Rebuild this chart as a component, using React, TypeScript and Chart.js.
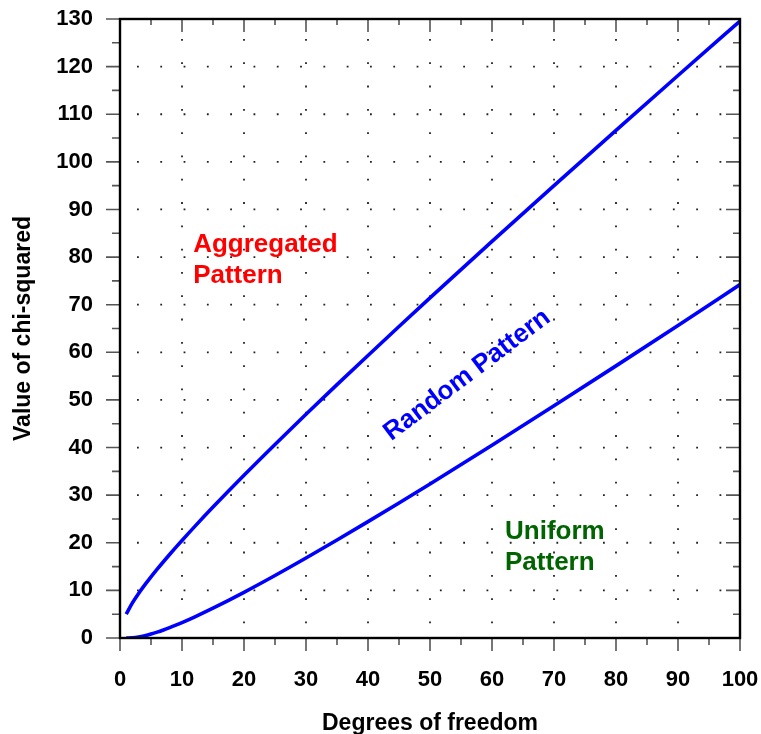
import { useEffect, useRef } from 'react';
import { Chart, registerables } from 'chart.js';

Chart.register(...registerables);

// Degrees of freedom (x) and chi-squared critical values (y)
const degreesOfFreedom = [1, 2, 3, 4, 5, 6, 7, 8, 9, 10, 12, 15, 20, 25, 30, 35, 40, 45, 50, 60, 70, 80, 90, 100];
const upperChiSquared = [5.024, 7.378, 9.348, 11.143, 12.833, 14.449, 16.013, 17.535, 19.023, 20.483, 23.337, 27.488, 34.17, 40.646, 46.979, 53.203, 59.342, 65.41, 71.42, 83.298, 95.023, 106.629, 118.136, 129.561];
const lowerChiSquared = [0.001, 0.051, 0.216, 0.484, 0.831, 1.237, 1.69, 2.18, 2.7, 3.247, 4.404, 6.262, 9.591, 13.12, 16.791, 20.569, 24.433, 28.366, 32.357, 40.482, 48.758, 57.153, 65.647, 74.222];

const xAxisRange = [0, 100];
const yAxisRange = [0, 130];
const tickStep = 5;
const labelStep = 10;

const regionLabels = [
  { text: 'Aggregated', x: 11.8, y: 81.1, color: '#ff0000', rotation: 0 },
  { text: 'Pattern', x: 11.8, y: 74.6, color: '#ff0000', rotation: 0 },
  { text: 'Random Pattern', x: 56, y: 55.2, color: '#0000ff', rotation: -37 },
  { text: 'Uniform', x: 62.1, y: 20.8, color: '#006400', rotation: 0 },
  { text: 'Pattern', x: 62.1, y: 14.3, color: '#006400', rotation: 0 },
];

const FONT = "'Liberation Sans', Arial, Helvetica, sans-serif";

const framePlugin = {
  id: 'frame',
  beforeDatasetsDraw(chart: any) {
    const { ctx, chartArea: a, scales } = chart;
    const xs = scales.x;
    const ys = scales.y;
    ctx.save();
    ctx.strokeStyle = '#222';
    ctx.lineWidth = 1.8;
    ctx.setLineDash([1.8, 21.5]);
    for (const t of xs.ticks) {
      if (t.value % labelStep !== 0 || t.value <= xAxisRange[0] || t.value >= xAxisRange[1]) continue;
      const px = xs.getPixelForValue(t.value);
      ctx.lineDashOffset = -20;
      ctx.beginPath();
      ctx.moveTo(px, a.top);
      ctx.lineTo(px, a.bottom);
      ctx.stroke();
    }
    for (const t of ys.ticks) {
      if (t.value % labelStep !== 0 || t.value <= yAxisRange[0] || t.value >= yAxisRange[1]) continue;
      const py = ys.getPixelForValue(t.value);
      ctx.lineDashOffset = -17;
      ctx.beginPath();
      ctx.moveTo(a.left, py);
      ctx.lineTo(a.right, py);
      ctx.stroke();
    }
    ctx.restore();
  },
  afterDatasetsDraw(chart: any) {
    const { ctx, chartArea: a, scales } = chart;
    const xs = scales.x;
    const ys = scales.y;
    ctx.save();
    // tick marks
    ctx.strokeStyle = '#555';
    ctx.lineWidth = 1.6;
    for (const t of xs.ticks) {
      const major = t.value % labelStep === 0;
      const px = xs.getPixelForValue(t.value);
      ctx.beginPath();
      ctx.moveTo(px, a.bottom);
      ctx.lineTo(px, a.bottom + (major ? 13 : 7));
      ctx.moveTo(px, a.top);
      ctx.lineTo(px, a.top + (major ? 13 : 6));
      ctx.stroke();
    }
    for (const t of ys.ticks) {
      const major = t.value % labelStep === 0;
      const py = ys.getPixelForValue(t.value);
      ctx.beginPath();
      ctx.moveTo(a.left, py);
      ctx.lineTo(a.left - (major ? 14 : 8), py);
      ctx.moveTo(a.right, py);
      ctx.lineTo(a.right - (major ? 14 : 7), py);
      ctx.stroke();
    }
    // frame
    ctx.strokeStyle = '#000';
    ctx.lineWidth = 2.4;
    ctx.strokeRect(a.left, a.top, a.right - a.left, a.bottom - a.top);
    // region labels
    ctx.font = `bold 26px ${FONT}`;
    for (const l of regionLabels) {
      const px = xs.getPixelForValue(l.x);
      const py = ys.getPixelForValue(l.y);
      ctx.save();
      ctx.fillStyle = l.color;
      ctx.translate(px, py);
      if (l.rotation) {
        ctx.rotate((l.rotation * Math.PI) / 180);
        ctx.textAlign = 'center';
        ctx.textBaseline = 'middle';
      } else {
        ctx.textAlign = 'left';
        ctx.textBaseline = 'alphabetic';
      }
      ctx.fillText(l.text, 0, 0);
      ctx.restore();
    }
    ctx.restore();
  },
};

const clearPadding = (s: any) => {
  s.paddingTop = 0;
  s.paddingBottom = 0;
  s.paddingLeft = 0;
  s.paddingRight = 0;
};

export default function App() {
  const ref = useRef<HTMLCanvasElement>(null);
  useEffect(() => {
    if (!ref.current) return;
    const tickFont = { family: FONT, size: 22, weight: 'bold' as const };
    const titleFont = { family: FONT, size: 23, weight: 'bold' as const };
    const lineStyle = {
      borderColor: '#0000ff',
      borderWidth: 3.6,
      pointRadius: 0,
      fill: false,
      cubicInterpolationMode: 'monotone' as const,
    };
    const chart = new Chart(ref.current, {
      type: 'line',
      data: {
        datasets: [
          { label: 'Upper', data: degreesOfFreedom.map((d, i) => ({ x: d, y: upperChiSquared[i] })), ...lineStyle },
          { label: 'Lower', data: degreesOfFreedom.map((d, i) => ({ x: d, y: lowerChiSquared[i] })), ...lineStyle },
        ],
      },
      options: {
        responsive: false,
        animation: false,
        devicePixelRatio: 1,
        layout: { padding: { top: 19, right: 21, left: 0, bottom: 0 } },
        plugins: { legend: { display: false }, tooltip: { enabled: false } },
        scales: {
          x: {
            type: 'linear',
            position: 'bottom',
            min: xAxisRange[0],
            max: xAxisRange[1],
            ticks: {
              stepSize: tickStep,
              autoSkip: false,
              maxRotation: 0,
              font: tickFont,
              color: '#000',
              padding: 29,
              callback: (v: any) => (Number(v) % labelStep === 0 ? String(v) : ''),
            },
            grid: { display: false, drawTicks: false },
            border: { display: false },
            title: { display: true, text: 'Degrees of freedom', font: titleFont, color: '#000', padding: { top: 0, bottom: -3 } },
            afterFit: (s: any) => {
              s.height = 96;
              clearPadding(s);
            },
          },
          y: {
            type: 'linear',
            min: yAxisRange[0],
            max: yAxisRange[1],
            ticks: {
              stepSize: tickStep,
              autoSkip: false,
              font: tickFont,
              color: '#000',
              padding: 27,
              callback: (v: any) => (Number(v) % labelStep === 0 ? String(v) : ''),
            },
            grid: { display: false, drawTicks: false },
            border: { display: false },
            title: { display: true, text: 'Value of chi-squared', font: titleFont, color: '#000', padding: { top: 10, bottom: 0 } },
            afterFit: (s: any) => {
              s.width = 120;
              clearPadding(s);
            },
          },
        },
      },
      plugins: [framePlugin],
    });
    return () => chart.destroy();
  }, []);
  return (
    <div style={{ position: 'absolute', left: 0, top: 0, width: 761, height: 734, background: '#fff' }}>
      <canvas ref={ref} width={761} height={734} style={{ display: 'block' }} />
    </div>
  );
}
